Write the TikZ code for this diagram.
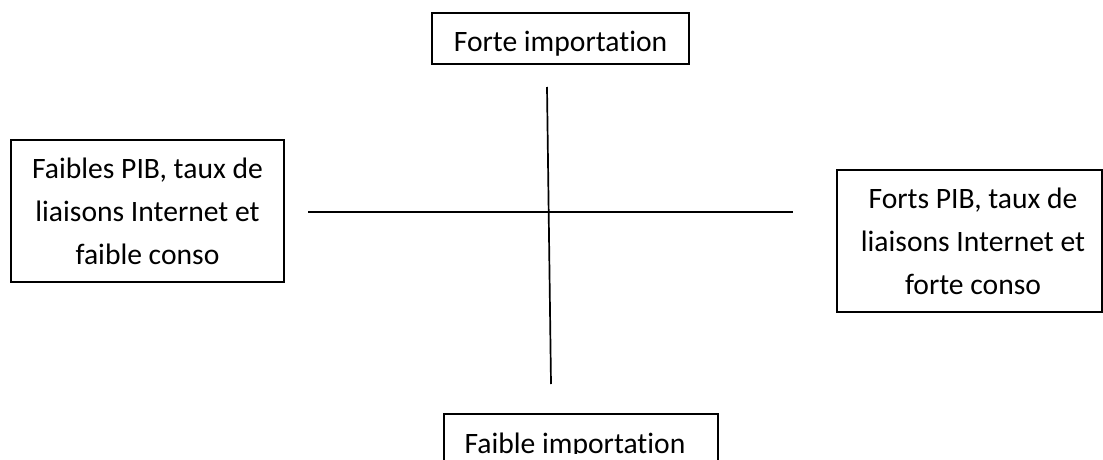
\documentclass[tikz,border=0pt]{standalone}
\usepackage{fontspec}
\setmainfont{Carlito}[Ligatures=NoCommon]
\begin{document}
\begin{tikzpicture}[x=1pt,y=-1pt,
  box/.style={draw,line width=1.6pt,inner sep=0pt,align=center,
    font=\fontsize{29.6}{43}\selectfont},
  onebox/.style={box,text height=30pt,text depth=3pt},
  txt/.style={inner sep=0pt,font=\fontsize{29.6}{43}\selectfont},
  axis/.style={line width=1.7pt}]
\useasboundingbox (0,0) rectangle (1103,460);
\node[onebox,minimum width=257pt,minimum height=51pt] (top) at (560.5,38.5) {Forte importation};
\node[box,minimum width=274pt,minimum height=60pt] (bot) at (581,444) {};
\begin{scope}
\clip (0,0) rectangle (1103,453.5);
\node[txt,anchor=base] (bottxt) at (575,453.5) {Faible importation};
\end{scope}
\node[box,minimum width=273pt,minimum height=142pt] (left) at (147.5,211) {Faibles PIB, taux de\\liaisons Internet et\\faible conso};
\node[box,minimum width=265pt,minimum height=142pt] (right) at (969.5,241) {\hspace*{7pt}Forts PIB, taux de\\\hspace*{7pt}liaisons Internet et\\\hspace*{7pt}forte conso};
\coordinate (vt) at (547,87);
\coordinate (vb) at (551,384);
\coordinate (hl) at (308,212);
\coordinate (hr) at (793,212);
\draw[axis] (vt) -- (vb);
\draw[axis] (hl) -- (hr);
\end{tikzpicture}
\end{document}
